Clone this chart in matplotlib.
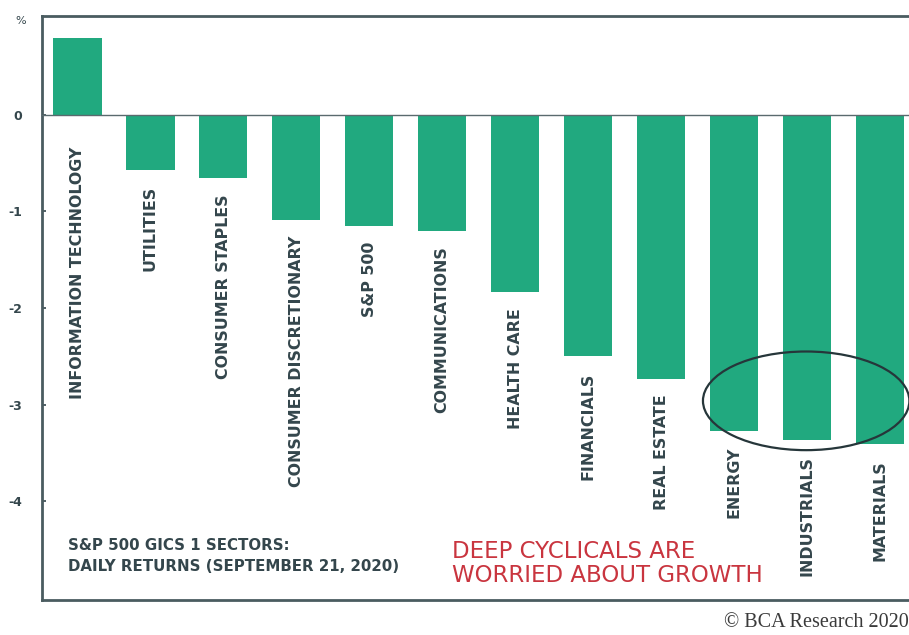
import matplotlib
matplotlib.use("Agg")
import matplotlib.pyplot as plt
from matplotlib.patches import Ellipse

# S&P 500 GICS level 1 sectors, daily returns on 21 Sep 2020 (%)
sectors = ["INFORMATION TECHNOLOGY", "UTILITIES", "CONSUMER STAPLES",
           "CONSUMER DISCRETIONARY", "S&P 500", "COMMUNICATIONS",
           "HEALTH CARE", "FINANCIALS", "REAL ESTATE", "ENERGY",
           "INDUSTRIALS", "MATERIALS"]
returns = [0.79, -0.57, -0.66, -1.09, -1.15, -1.20,
           -1.84, -2.50, -2.73, -3.27, -3.37, -3.41]
yticks = [0, -1, -2, -3, -4]

green = "#21a97f"
slate = "#34464c"
red = "#c9353f"

fig = plt.figure(figsize=(9.09, 6.35), dpi=100)
ax = fig.add_axes([0.046, 0.055, 0.954, 0.92])

x = list(range(len(sectors)))
ax.bar(x, returns, width=0.66, color=green, zorder=2)
ax.axhline(0, color="#5a6a6e", lw=1.0, zorder=3)

# sector names run vertically just under each bar
for xi, name, val in zip(x, sectors, returns):
    off = -32 if val > 0 else -16
    ax.annotate(name, (xi, min(val, 0)), xytext=(0, off),
                textcoords="offset pixels", rotation=90,
                ha="center", va="top", fontsize=11.4, fontweight="bold",
                color=slate)

ax.set_xlim(-0.49, 11.4)
ax.set_ylim(-5.02, 1.02)
ax.set_xticks([])
ax.set_yticks(yticks)
ax.set_yticklabels([str(t) for t in yticks], fontsize=9, fontweight="bold",
                   color=slate)
ax.tick_params(axis="y", direction="in", length=3, width=1.2, color=slate,
               pad=14)
ax.text(-0.0245, 1.0, "%", transform=ax.transAxes, ha="center", va="top",
        fontsize=8, color=slate)

for side in ["left", "top", "bottom"]:
    ax.spines[side].set_color("#4a5c60")
    ax.spines[side].set_linewidth(2)
ax.spines["right"].set_visible(False)

# highlight the deep cyclicals
ax.add_patch(Ellipse((9.99, -2.96), 2.83, 1.02, fill=False,
                     edgecolor="#26363a", lw=1.6, zorder=4))

ax.text(-0.13, -4.38, "S&P 500 GICS 1 SECTORS:\nDAILY RETURNS (SEPTEMBER 21, 2020)",
        ha="left", va="top", fontsize=10.8, fontweight="bold", color=slate,
        linespacing=1.45)
ax.text(5.14, -4.40, "DEEP CYCLICALS ARE\nWORRIED ABOUT GROWTH",
        ha="left", va="top", fontsize=16.5, color=red, linespacing=1.05)

fig.text(0.797, 0.004, "\u00a9 BCA Research 2020", ha="left", va="bottom",
         fontsize=14.5, family="Liberation Serif", color="#3a3a3a")

fig.savefig("out.png", dpi=100)
